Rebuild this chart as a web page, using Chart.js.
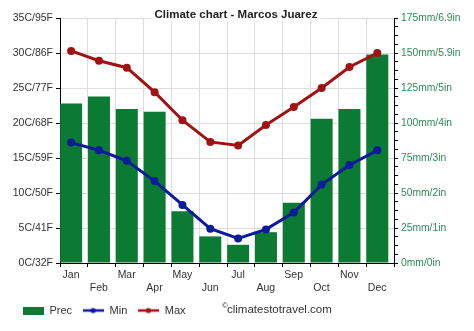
<!DOCTYPE html>
<html>
<head>
<meta charset="utf-8">
<script src="https://cdn.jsdelivr.net/npm/chart.js@4"></script>
<style>
  html, body { margin: 0; padding: 0; background: #fff; }
</style>
</head>
<body>
<canvas id="climate" width="474" height="331"></canvas>
<script>
// Monthly climate figures for Marcos Juarez
const months = ['Jan', 'Feb', 'Mar', 'Apr', 'May', 'Jun', 'Jul', 'Aug', 'Sep', 'Oct', 'Nov', 'Dec'];
const precipitation = [114, 119, 110, 108, 37, 19, 13, 22, 43, 103, 110, 149]; // mm
const tempMin = [17.2, 16.1, 14.6, 11.7, 8.3, 4.9, 3.5, 4.8, 7.2, 11.2, 14.0, 16.1]; // °C
const tempMax = [30.3, 28.9, 27.9, 24.4, 20.4, 17.3, 16.8, 19.7, 22.3, 25.0, 28.0, 30.0]; // °C
const tempTickLabels = ['0C/32F', '5C/41F', '10C/50F', '15C/59F', '20C/68F', '25C/77F', '30C/86F', '35C/95F'];
const precTickLabels = ['0mm/0in', '25mm/1in', '50mm/2in', '75mm/3in', '100mm/4in', '125mm/5in', '150mm/5.9in', '175mm/6.9in'];

const FONT = "'Liberation Sans', Arial, sans-serif";
const GREEN = '#0b7a33';
const BLUE = '#0c1a9c';
const RED = '#a01212';

// small legend swatches
function swatch(kind, color) {
  const c = document.createElement('canvas');
  c.width = 21; c.height = 8;
  const g = c.getContext('2d');
  if (kind === 'bar') {
    g.fillStyle = color; g.fillRect(0, 0, 21, 8);
  } else {
    g.strokeStyle = color; g.lineWidth = 2.5;
    g.beginPath(); g.moveTo(0, 4); g.lineTo(21, 4); g.stroke();
    g.fillStyle = color; g.beginPath(); g.arc(10.5, 4, 2.6, 0, Math.PI * 2); g.fill();
  }
  return c;
}

const asPoints = arr => arr.map((v, i) => ({ x: i, y: v }));

const overlayText = {
  id: 'overlayText',
  afterDraw(chart) {
    const ctx = chart.ctx;
    ctx.save();
    // title with a white backdrop over the top grid line
    ctx.font = 'bold 11.5px ' + FONT;
    const title = 'Climate chart - Marcos Juarez';
    const tw = ctx.measureText(title).width;
    const cx = 236, cy = 15;
    ctx.fillStyle = '#fff';
    ctx.fillRect(cx - tw / 2 - 3, cy - 7, tw + 6, 13);
    ctx.fillStyle = '#222';
    ctx.textAlign = 'center';
    ctx.textBaseline = 'middle';
    ctx.fillText(title, cx, cy);
    // copyright line beside the legend
    ctx.textAlign = 'left';
    ctx.fillStyle = '#333';
    ctx.font = '8px ' + FONT;
    ctx.fillText('©', 222, 306);
    ctx.font = '11.5px ' + FONT;
    ctx.fillText('climatestotravel.com', 227, 310);
    ctx.restore();
  }
};

new Chart(document.getElementById('climate'), {
  type: 'bar',
  data: {
    datasets: [
      {
        type: 'bar', label: 'Prec', data: asPoints(precipitation), yAxisID: 'y1',
        backgroundColor: GREEN, borderWidth: 0,
        categoryPercentage: 1.0, barPercentage: 0.79, order: 3
      },
      {
        type: 'line', label: 'Min', data: asPoints(tempMin), yAxisID: 'y',
        borderColor: BLUE, backgroundColor: BLUE, borderWidth: 3,
        pointRadius: 4, pointBackgroundColor: BLUE, pointBorderWidth: 0,
        tension: 0, order: 2
      },
      {
        type: 'line', label: 'Max', data: asPoints(tempMax), yAxisID: 'y',
        borderColor: RED, backgroundColor: RED, borderWidth: 3,
        pointRadius: 4, pointBackgroundColor: RED, pointBorderWidth: 0,
        tension: 0, order: 1
      }
    ]
  },
  options: {
    responsive: false,
    animation: false,
    events: [],
    layout: { padding: { top: 18, left: 12, right: 0, bottom: 5 } },
    scales: {
      x: {
        type: 'linear',
        offset: false,
        min: -0.4, max: 11.6,
        afterBuildTicks: s => { s.ticks = Array.from({ length: 13 }, (_, k) => ({ value: -0.4 + k })); },
        afterFit: s => { s.height = 32; },
        grid: { offset: false, color: '#dddddd', tickColor: '#000', tickLength: 4 },
        border: { color: '#000', width: 1 },
        ticks: {
          autoSkip: false, maxRotation: 0, minRotation: 0,
          labelOffset: 11, padding: 2,
          color: '#333', font: { family: FONT, size: 10.5 },
          callback: (v, i) => i < 12 ? (i % 2 ? ['', months[i]] : months[i]) : ''
        }
      },
      y: {
        type: 'linear', position: 'left',
        min: 0, max: 35,
        afterBuildTicks: s => { s.ticks = tempTickLabels.map((_, k) => ({ value: k * 5 })); },
        afterFit: s => { s.width = 48; },
        grid: { color: '#dddddd', tickColor: '#000', tickLength: 4 },
        border: { color: '#000', width: 1 },
        ticks: {
          autoSkip: false, padding: 3,
          color: '#333', font: { family: FONT, size: 10.5 },
          callback: v => tempTickLabels[Math.round(v / 5)]
        }
      },
      y1: {
        type: 'linear', position: 'right',
        min: 0, max: 175,
        afterBuildTicks: s => { s.ticks = Array.from({ length: 29 }, (_, k) => ({ value: k * 6.25 })); },
        afterFit: s => { s.width = 80; },
        grid: { drawOnChartArea: false, color: '#000', tickColor: '#000', tickLength: 4 },
        border: { color: '#000', width: 1 },
        ticks: {
          autoSkip: false, padding: 3,
          color: '#2e8b57', font: { family: FONT, size: 10.3 },
          callback: v => (v % 25 === 0 ? precTickLabels[v / 25] : '')
        }
      }
    },
    plugins: {
      title: { display: false },
      tooltip: { enabled: false },
      legend: {
        display: true,
        position: 'bottom',
        align: 'start',
        labels: {
          usePointStyle: true,
          pointStyleWidth: 22,
          padding: 10,
          color: '#333',
          font: { family: FONT, size: 11 },
          generateLabels: () => [
            { text: 'Prec', pointStyle: swatch('bar', GREEN), fillStyle: GREEN, strokeStyle: GREEN, lineWidth: 0, hidden: false, datasetIndex: 0, fontColor: '#333' },
            { text: 'Min', pointStyle: swatch('line', BLUE), fillStyle: BLUE, strokeStyle: BLUE, lineWidth: 0, hidden: false, datasetIndex: 1, fontColor: '#333' },
            { text: 'Max', pointStyle: swatch('line', RED), fillStyle: RED, strokeStyle: RED, lineWidth: 0, hidden: false, datasetIndex: 2, fontColor: '#333' }
          ]
        }
      }
    }
  },
  plugins: [overlayText]
});
</script>
</body>
</html>
